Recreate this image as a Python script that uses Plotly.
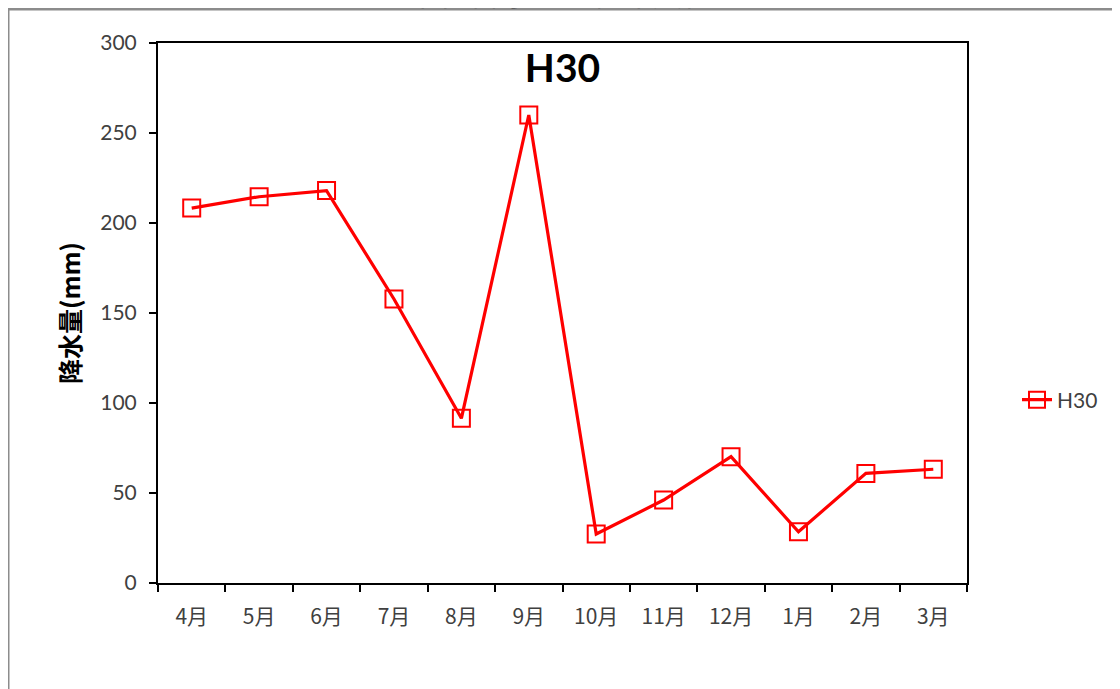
import plotly.graph_objects as go

months = ["4月", "5月", "6月", "7月", "8月", "9月", "10月", "11月", "12月", "1月", "2月", "3月"]
rain_h30 = [208.3, 214.6, 218.0, 157.8, 91.5, 260.0, 27.2, 46.1, 70.2, 28.5, 60.9, 63.2]
y_ticks = [0, 50, 100, 150, 200, 250, 300]

# page is offset by the 8px body margin; work in page pixels and convert
OFF = 8
W, H = 1120 - OFF, 689 - OFF
PL, PR, PT, PB = 158, 967, 43, 583   # plot area in page pixels
L, T = PL - OFF, PT - OFF
R = W - (PR - OFF)
B = H - (PB - OFF)
pw, ph = PR - PL, PB - PT

def px_x(p):
    return (p - PL) / pw

def px_y(p):
    return (PB - p) / ph

LAT = "Lato, 'Noto Sans CJK JP', sans-serif"
CJK = "'Noto Sans CJK JP', sans-serif"

fig = go.Figure()
fig.add_trace(go.Scatter(
    x=months, y=rain_h30, name="H30", mode="lines+markers",
    line=dict(color="#FF0000", width=3.2),
    marker=dict(symbol="square-open", size=17, color="#FF0000",
                line=dict(color="#FF0000", width=2)),
))

fig.update_layout(
    width=W, height=H,
    margin=dict(l=L, r=R, t=T, b=B, autoexpand=False),
    paper_bgcolor="white", plot_bgcolor="white",
    showlegend=True,
    title=dict(text="<b>H30</b>", font=dict(family=LAT, size=39, color="#000000"),
               x=0.5, xanchor="center", xref="paper",
               y=px_y(68), yanchor="middle", yref="paper"),
    legend=dict(x=px_x(1017), y=px_y(400), xanchor="left", yanchor="middle",
                font=dict(family=LAT, size=21, color="#404040"),
                bgcolor="rgba(0,0,0,0)", borderwidth=0),
    xaxis=dict(
        type="category", categoryorder="array", categoryarray=months,
        range=[-0.5, len(months) - 0.5],
        showline=True, linecolor="#000000", linewidth=2, mirror=True,
        ticks="outside", ticklen=7, tickwidth=2, tickcolor="#000000",
        tickson="boundaries", showgrid=False, zeroline=False,
        tickfont=dict(family=CJK, size=21, color="#404040"),
        ticklabelstandoff=14,
        automargin=False,
    ),
    yaxis=dict(
        range=[0, 300], tickvals=y_ticks,
        showline=True, linecolor="#000000", linewidth=2, mirror=True,
        ticks="outside", ticklen=7, tickwidth=2, tickcolor="#000000",
        showgrid=False, zeroline=False,
        tickfont=dict(family=LAT, size=21, color="#404040"),
        ticklabelstandoff=8,
        title=dict(text="<b>降水量(mm)</b>", font=dict(family=CJK, size=25, color="#000000"),
                   standoff=13),
        automargin=False,
    ),
    shapes=[
        dict(type="line", xref="paper", yref="paper",
             x0=px_x(6), x1=px_x(1125), y0=px_y(9), y1=px_y(9),
             line=dict(color="#8c8c8c", width=3)),
        dict(type="line", xref="paper", yref="paper",
             x0=px_x(8), x1=px_x(8), y0=px_y(8), y1=px_y(695),
             line=dict(color="#8c8c8c", width=3)),
    ],
    annotations=[
        dict(text="図6 降水量の経年変化", xref="paper", yref="paper",
             x=px_x(565), y=px_y(-8), xanchor="center", yanchor="middle",
             showarrow=False, font=dict(family=CJK, size=30, color="#404040")),
    ],
)

fig.write_html("out.html")
